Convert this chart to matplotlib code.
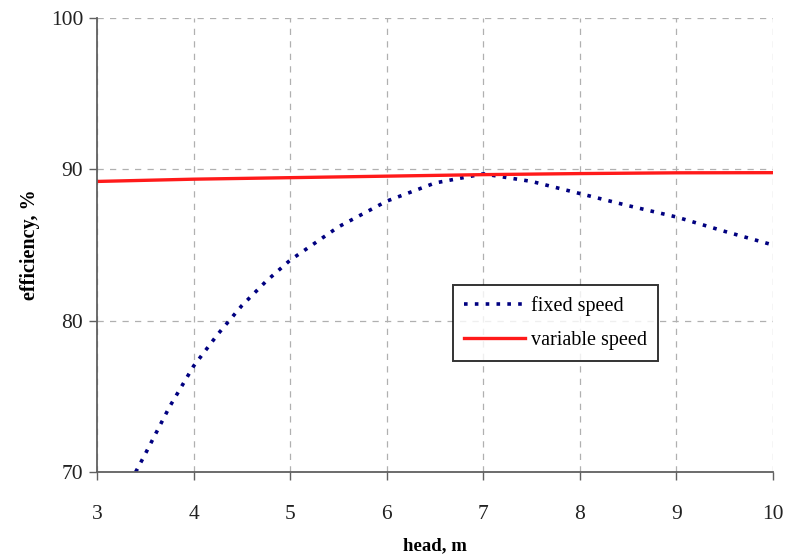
import numpy as np
import matplotlib.pyplot as plt

# turbine efficiency vs head
head_fixed = [3.4, 3.5, 3.75, 4.0, 4.25, 4.5, 4.75, 5.0, 5.5, 6.0, 6.5, 7.0,
              7.5, 8.0, 8.5, 9.0, 9.5, 10.0]
eff_fixed = [70.0, 71.2, 74.3, 77.0, 79.1, 81.0, 82.6, 84.0, 86.2, 87.9, 89.1, 89.7,
             89.2, 88.4, 87.6, 86.85, 85.9, 85.0]

head_var = [3, 4, 5, 6, 7, 8, 9, 10]
eff_var = [89.2, 89.35, 89.45, 89.55, 89.65, 89.72, 89.77, 89.78]

plt.rcParams['font.family'] = ['Liberation Serif', 'DejaVu Serif']

fig = plt.figure(figsize=(7.87, 5.54), dpi=100)
ax = fig.add_axes([0.1233, 0.148, 0.859, 0.8195])

ax.plot(head_fixed, eff_fixed, color='#000080', lw=2.6,
        linestyle=(0, (1, 2.0)), label='fixed speed')
ax.plot(head_var, eff_var, color='#ff1a1a', lw=2.4, label='variable speed')

ax.set_xlim(3, 10)
ax.set_ylim(70, 100)
ax.set_xticks(range(3, 11))
ax.set_yticks([70, 80, 90, 100])

ax.grid(True, color='#b0b0b0', linestyle=(0, (5, 5)), lw=0.9)
for s in ['top', 'right']:
    ax.spines[s].set_visible(False)
for s in ['left', 'bottom']:
    ax.spines[s].set_color('#606060')
    ax.spines[s].set_linewidth(1.3)

ax.tick_params(axis='both', labelsize=15.5, colors='#606060', labelcolor='#222222',
               length=6, width=1)
ax.tick_params(axis='x', pad=18)
ax.tick_params(axis='y', pad=4)

ax.set_xlabel('head, m', fontsize=13.5, fontweight='bold', labelpad=9)
ax.set_ylabel('efficiency, %', fontsize=14.5, fontweight='bold', labelpad=8)

leg = ax.legend(loc='upper left', bbox_to_anchor=(0.527, 0.412), fontsize=14.5,
                frameon=True, fancybox=False, handlelength=3.0, handletextpad=0.3,
                borderpad=0.55, labelspacing=0.75, borderaxespad=0)
leg.get_frame().set_edgecolor('black')
leg.get_frame().set_linewidth(1.4)

fig.savefig('out.png', dpi=100)
